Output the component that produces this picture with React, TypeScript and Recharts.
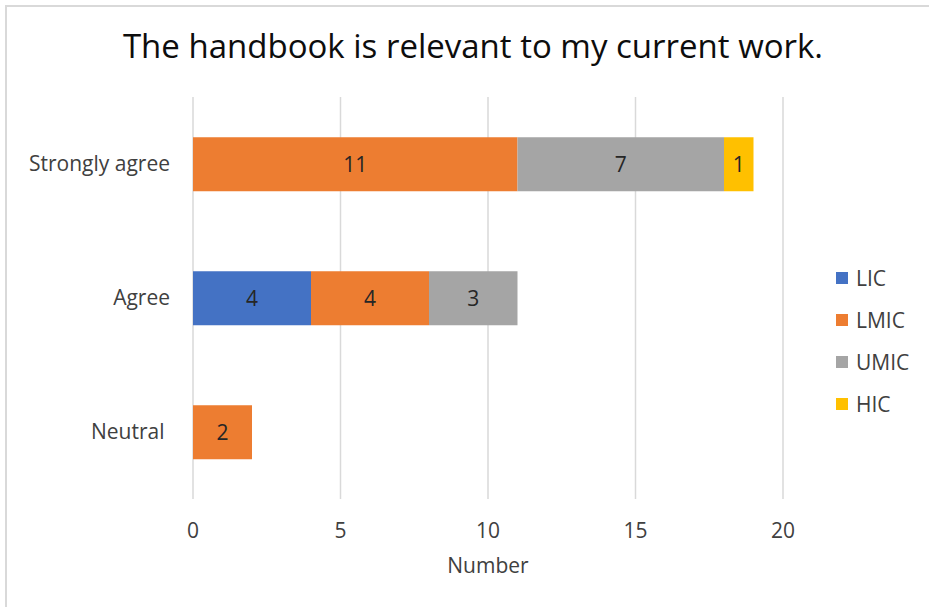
import React from 'react';
import { BarChart, Bar, XAxis, YAxis, CartesianGrid, LabelList, Legend } from 'recharts';

const categories = ['Strongly agree', 'Agree', 'Neutral\u00a0'];
const lic = [0, 4, 0];
const lmic = [11, 4, 2];
const umic = [7, 3, 0];
const hic = [1, 0, 0];

const seriesNames = ['LIC', 'LMIC', 'UMIC', 'HIC'];
const seriesColors = ['#4472C4', '#ED7D31', '#A5A5A5', '#FFC000'];
const xTicks = [0, 5, 10, 15, 20];

const data = categories.map((name, i) => ({
    name,
    LIC: lic[i],
    LMIC: lmic[i],
    UMIC: umic[i],
    HIC: hic[i],
}));

const FONT = '"Open Sans", "Noto Sans", sans-serif';

// skip labels for empty segments
const hideZero = (v: any) => (v ? v : '');

const LegendBox = () => (
    <div style={{ fontFamily: FONT }}>
        {seriesNames.map((s, i) => (
            <div key={s} style={{ display: 'flex', alignItems: 'center', height: 42, color: '#404040', fontSize: 21 }}>
                <span style={{ width: 12, height: 12, background: seriesColors[i], display: 'inline-block', marginRight: 8 }} />
                {s}
            </div>
        ))}
    </div>
);

export default function App() {
    return (
        <div style={{ position: 'absolute', left: 0, top: 0, width: 929, height: 607, background: '#fff', fontFamily: FONT }}>
            <div style={{ position: 'absolute', left: 5, top: 5, right: 0, bottom: 0, borderTop: '2px solid #d9d9d9', borderLeft: '2px solid #d9d9d9' }} />
            <div style={{ position: 'absolute', left: 0, width: 946, top: 23, textAlign: 'center', fontSize: 33, color: '#0d0d0d' }}>
                The handbook is relevant to my current work.
            </div>
            <div style={{ position: 'absolute', left: 0, top: 0 }}>
                <BarChart
                    width={929}
                    height={607}
                    data={data}
                    layout="vertical"
                    barCategoryGap="30%"
                    margin={{ top: 97, right: 146, bottom: 48, left: 0 }}
                >
                    <CartesianGrid horizontal={false} stroke="#d9d9d9" strokeWidth={1.5} />
                    <XAxis
                        type="number"
                        domain={[0, 20]}
                        ticks={xTicks}
                        axisLine={false}
                        tickLine={false}
                        tickSize={0}
                        tickMargin={24}
                        height={60}
                        tick={{ fill: '#404040', fontSize: 21, fontFamily: FONT }}
                        label={{ value: 'Number', position: 'insideBottom', offset: -14, fill: '#404040', fontSize: 21, fontFamily: FONT }}
                    />
                    <YAxis
                        type="category"
                        dataKey="name"
                        width={193}
                        axisLine={false}
                        tickLine={false}
                        tickSize={0}
                        tickMargin={23}
                        tick={{ fill: '#404040', fontSize: 21, fontFamily: FONT }}
                    />
                    <Legend
                        layout="horizontal"
                        align="center"
                        verticalAlign="middle"
                        content={<LegendBox />}
                        wrapperStyle={{ left: 836, top: 257, width: 90 }}
                    />
                    {seriesNames.map((s, i) => (
                        <Bar key={s} dataKey={s} stackId="a" fill={seriesColors[i]} isAnimationActive={false}>
                            <LabelList dataKey={s} position="center" formatter={hideZero} fill="#262626" fontSize={21} fontFamily={FONT} />
                        </Bar>
                    ))}
                </BarChart>
            </div>
        </div>
    );
}
